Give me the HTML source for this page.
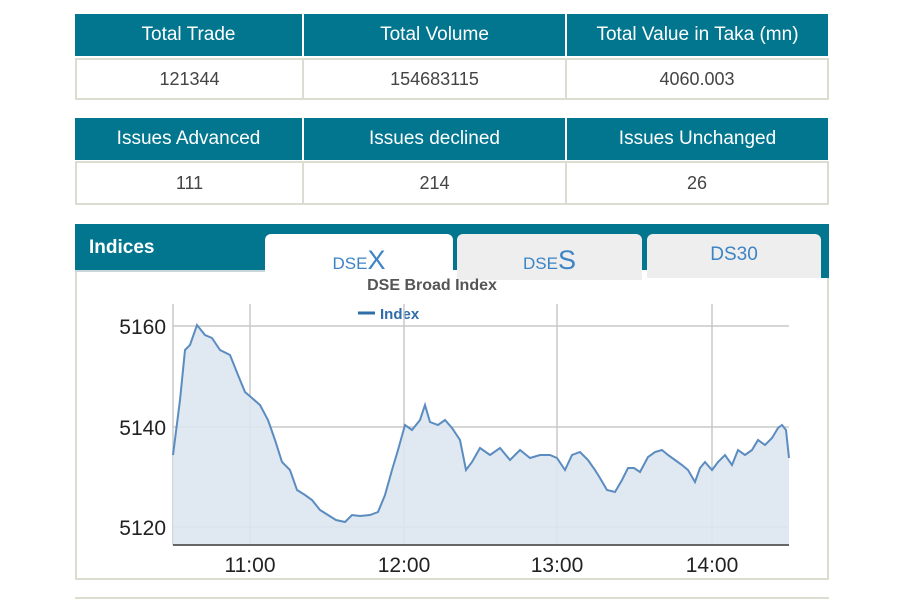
<!DOCTYPE html>
<html><head><meta charset="utf-8"><style>
body{margin:0;background:#fff;width:900px;height:600px;position:relative;font-family:"Liberation Sans",Arial,sans-serif;overflow:hidden}
.c{position:absolute;display:flex;align-items:center;justify-content:center;box-sizing:border-box}
.h{background:#03768f;color:#fff;font-size:19px}
.v{background:#fff;border:2px solid #dcdcd0;color:#444;font-size:18px}
.t{position:absolute;box-sizing:border-box;text-align:center;color:#3d84c6;border-radius:6px 6px 0 0}
</style></head><body>
<div class="c h" style="left:75px;top:14px;width:227px;height:42px">Total Trade</div>
<div class="c h" style="left:304px;top:14px;width:261px;height:42px">Total Volume</div>
<div class="c h" style="left:567px;top:14px;width:261px;height:42px">Total Value in Taka (mn)</div>
<div class="c v" style="left:75px;top:58px;width:229px;height:42px">121344</div>
<div class="c v" style="left:302px;top:58px;width:265px;height:42px">154683115</div>
<div class="c v" style="left:565px;top:58px;width:264px;height:42px">4060.003</div>
<div class="c h" style="left:75px;top:118px;width:227px;height:42px">Issues Advanced</div>
<div class="c h" style="left:304px;top:118px;width:261px;height:42px">Issues declined</div>
<div class="c h" style="left:567px;top:118px;width:261px;height:42px">Issues Unchanged</div>
<div class="c v" style="left:75px;top:161px;width:229px;height:44px">111</div>
<div class="c v" style="left:302px;top:161px;width:265px;height:44px">214</div>
<div class="c v" style="left:565px;top:161px;width:264px;height:44px">26</div>

<div style="position:absolute;left:75px;top:224px;width:754px;height:356px;border:2px solid #dcdcd0;border-top:none;box-sizing:border-box;background:#fff"></div>
<div style="position:absolute;left:75px;top:224px;width:754px;height:46px;background:#03768f"></div>
<div style="position:absolute;left:821px;top:224px;width:8px;height:54px;background:#03768f"></div>
<div style="position:absolute;left:75px;top:270px;width:190px;height:2px;background:#c8d6da"></div>
<div style="position:absolute;left:89px;top:237px;color:#fff;font-weight:bold;font-size:19px">Indices</div>
<div class="t" style="left:265px;top:234px;width:188px;height:48px;background:#fff"><div style="position:absolute;left:0;right:0;top:11px;font-size:17px">DSE<span style="font-size:27px">X</span></div></div>
<div class="t" style="left:457px;top:234px;width:185px;height:46px;background:#eee"><div style="position:absolute;left:0;right:0;top:11px;font-size:17px">DSE<span style="font-size:27px">S</span></div></div>
<div class="t" style="left:647px;top:234px;width:174px;height:44px;background:#eee"><div style="position:absolute;left:0;right:0;top:10px;font-size:19px">DS30</div></div>
<div style="position:absolute;left:75px;top:597px;width:754px;height:2px;background:#dcdcd0"></div>

<svg style="position:absolute;left:0;top:0" width="900" height="600">
<text x="432" y="290" text-anchor="middle" font-size="16" font-weight="bold" fill="#555" font-family="Liberation Sans,sans-serif">DSE Broad Index</text>
<line x1="358" y1="313" x2="375" y2="313" stroke="#2f6ea8" stroke-width="3"/>
<text x="380" y="319" font-size="15" font-weight="bold" fill="#2f6ea8" font-family="Liberation Sans,sans-serif">Index</text>
<g stroke="#c8c8c8" stroke-width="1.5">
<line x1="173" y1="326" x2="789" y2="326"/><line x1="173" y1="427" x2="789" y2="427"/><line x1="173" y1="527" x2="789" y2="527"/>
<line x1="250" y1="304" x2="250" y2="545"/><line x1="404" y1="304" x2="404" y2="545"/><line x1="557" y1="304" x2="557" y2="545"/><line x1="712" y1="304" x2="712" y2="545"/>
<line x1="173" y1="304" x2="173" y2="545"/>
</g>
<polygon fill="#dde6f0" fill-opacity="0.9" points="173,545 173,455 180,400 185,350 190,345 197,325 205,335 212,338 220,350 230,355 238,375 245,392 252,398 260,405 268,420 275,440 282,462 290,470 297,490 305,495 312,500 320,510 328,515 336,520 345,522 352,515 360,516 370,515 378,512 385,495 392,470 398,450 405,425 412,430 420,420 425,405 430,422 438,425 445,420 452,428 460,440 466,470 472,462 480,448 490,455 500,448 510,460 520,450 530,458 540,455 550,455 557,458 565,470 572,455 580,452 588,460 595,470 600,478 607,490 615,492 622,480 628,468 634,468 640,472 648,457 655,452 662,450 668,455 675,460 682,465 688,470 695,482 700,468 705,462 712,470 718,462 725,455 732,465 738,450 745,455 752,450 758,440 765,445 772,438 778,428 782,425 786,430 789,458 789,545"/>
<polyline fill="none" stroke="#5b8cc0" stroke-width="2" points="173,455 180,400 185,350 190,345 197,325 205,335 212,338 220,350 230,355 238,375 245,392 252,398 260,405 268,420 275,440 282,462 290,470 297,490 305,495 312,500 320,510 328,515 336,520 345,522 352,515 360,516 370,515 378,512 385,495 392,470 398,450 405,425 412,430 420,420 425,405 430,422 438,425 445,420 452,428 460,440 466,470 472,462 480,448 490,455 500,448 510,460 520,450 530,458 540,455 550,455 557,458 565,470 572,455 580,452 588,460 595,470 600,478 607,490 615,492 622,480 628,468 634,468 640,472 648,457 655,452 662,450 668,455 675,460 682,465 688,470 695,482 700,468 705,462 712,470 718,462 725,455 732,465 738,450 745,455 752,450 758,440 765,445 772,438 778,428 782,425 786,430 789,458"/>
<line x1="173" y1="545" x2="789" y2="545" stroke="#666" stroke-width="2"/>
<g font-family="Liberation Sans,sans-serif" font-size="21" fill="#222">
<text x="166" y="334" text-anchor="end">5160</text><text x="166" y="435" text-anchor="end">5140</text><text x="166" y="535" text-anchor="end">5120</text>
<text x="250" y="572" text-anchor="middle">11:00</text><text x="404" y="572" text-anchor="middle">12:00</text><text x="557" y="572" text-anchor="middle">13:00</text><text x="712" y="572" text-anchor="middle">14:00</text>
</g>
</svg>
</body></html>
